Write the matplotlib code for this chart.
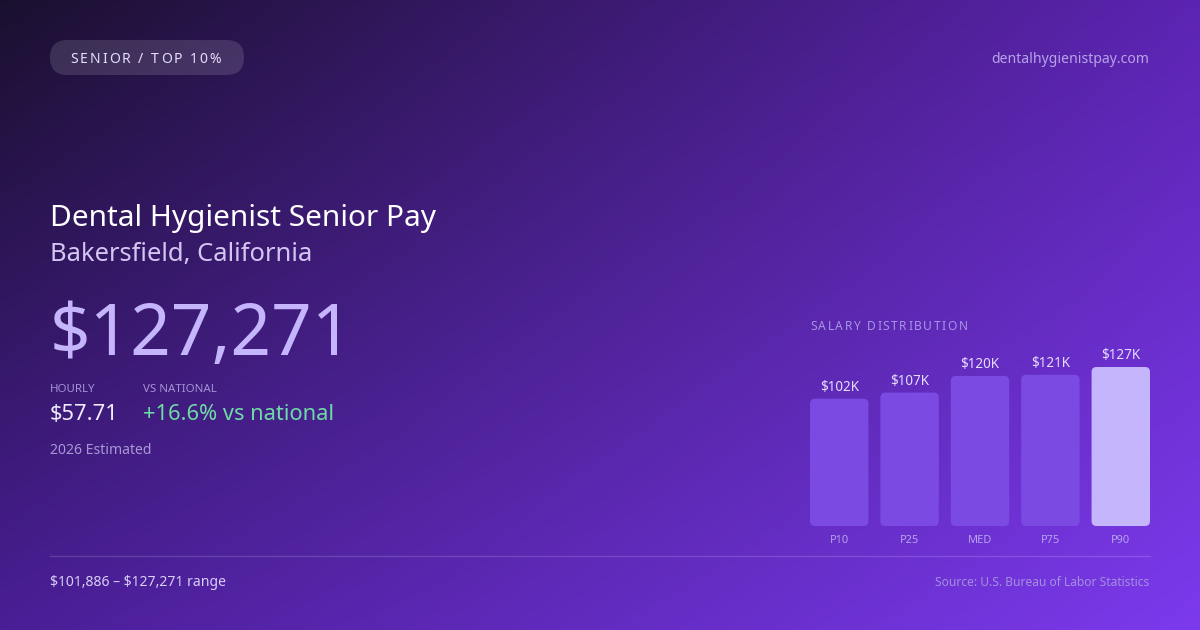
import numpy as np
import matplotlib
matplotlib.use("Agg")
import matplotlib.pyplot as plt
from matplotlib.patches import FancyBboxPatch

W, H = 1200, 630

# salary distribution
labels = ["P10", "P25", "MED", "P75", "P90"]
salaries = [101886, 106800, 120100, 121000, 127271]
value_labels = ["$102K", "$107K", "$120K", "$121K", "$127K"]

badge = "SENIOR / TOP 10%"
site = "dentalhygienistpay.com"
title = "Dental Hygienist Senior Pay"
subtitle = "Bakersfield, California"
big_number = "$127,271"
hourly = "$57.71"
vs_national = "+16.6% vs national"
year_note = "2026 Estimated"
range_note = "$101,886 \u2013 $127,271 range"
source = "Source: U.S. Bureau of Labor Statistics"

plt.rcParams['font.family'] = ['Noto Sans', 'DejaVu Sans']

fig = plt.figure(figsize=(12, 6.3), dpi=100)
ax = fig.add_axes([0, 0, 1, 1])
ax.set_xlim(0, W)
ax.set_ylim(H, 0)
ax.axis("off")

# background gradient (bilinear between four corners)
tl = np.array([26, 16, 46]) / 255
tr = np.array([92, 36, 178]) / 255
bl = np.array([74, 30, 150]) / 255
br = np.array([124, 58, 237]) / 255
u = np.linspace(0, 1, W)[None, :, None]
v = np.linspace(0, 1, H)[:, None, None]
bg = (tl * (1 - u) * (1 - v) + tr * u * (1 - v) + bl * (1 - u) * v + br * u * v)
ax.imshow(bg, extent=[0, W, H, 0], aspect="auto", zorder=0)


def px(p):
    # pixel size to points
    return p * 0.72


def put(x, y, s, size, **kw):
    # y is the baseline, in pixels from the top
    kw.setdefault("ha", "left")
    return ax.text(x, y, s, va="baseline", fontsize=px(size), parse_math=False, **kw)


def spaced_text(x, y, s, gap, size, **kw):
    r = fig.canvas.get_renderer()
    for ch in s:
        if ch == " ":
            x += size * 0.26 + gap
            continue
        t = put(x, y, ch, size, **kw)
        bb = t.get_window_extent(renderer=r)
        x += bb.width + gap
    return x


# badge
pill = FancyBboxPatch((50, 40), 194, 35, boxstyle="round,pad=0,rounding_size=17.5",
                      fc="white", alpha=0.13, ec="none", zorder=2)
ax.add_patch(pill)
spaced_text(70, 63, badge, 2.0, 14, color="#e6defc", zorder=3)

put(1149, 63, site, 14, ha="right", color="#c9b8f5", alpha=0.85)

# headline block
put(50, 226, title, 29.8, color="white")
put(50, 261, subtitle, 25.6, color="#d3c6f3")
put(50, 355, big_number, 71, color="#c4b5fd")

put(50, 392, "HOURLY", 11.5, color="#a592d6")
put(143, 392, "VS NATIONAL", 11.5, color="#a592d6")
put(50, 420, hourly, 21.8, color="#f1ecff")
put(143, 420, vs_national, 21.8, color="#6edba6")
put(50, 454, year_note, 14, color="#a897d6")

# footer
ax.plot([50, 1150], [556, 556], color="white", alpha=0.15, lw=1)
put(50, 586, range_note, 14, color="#d8cef7")
put(1149, 586, source, 12, ha="right", color="#a58fe0")

spaced_text(810, 330, "SALARY DISTRIBUTION", 1.6, 12, color="#a895e6")

# bar chart
bax = fig.add_axes([810 / W, (H - 526) / H, 340 / W, 159 / H])
bax.set_xlim(-0.415, 4.415)
bax.set_ylim(0, max(salaries))
bax.axis("off")
bax.patch.set_alpha(0)

xs = np.arange(len(labels))
bw = 0.83
bars = bax.bar(xs, salaries, width=bw)
# swap the plain bars for rounded ones
aspect = (max(salaries) / 159) * (4.83 / 340) ** -1
for i, b in enumerate(bars):
    b.set_visible(False)
    c = "#c4b5fd" if labels[i] == "P90" else "#7b4ae2"
    rb = FancyBboxPatch((b.get_x(), 0), b.get_width(), b.get_height(),
                        boxstyle="round,pad=0,rounding_size=0.07",
                        mutation_aspect=aspect, fc=c, ec="none")
    bax.add_patch(rb)
    bax.annotate(value_labels[i], (xs[i], salaries[i]), xytext=(0, 8),
                 textcoords="offset pixels", ha="center", va="baseline",
                 fontsize=px(13.5), color="#e4dcff", annotation_clip=False)
    bax.annotate(labels[i], (xs[i], 0), xytext=(0, -17),
                 textcoords="offset pixels", ha="center", va="baseline",
                 fontsize=px(11), color="#b7a3ee", annotation_clip=False)

fig.savefig("out.png", dpi=100)
